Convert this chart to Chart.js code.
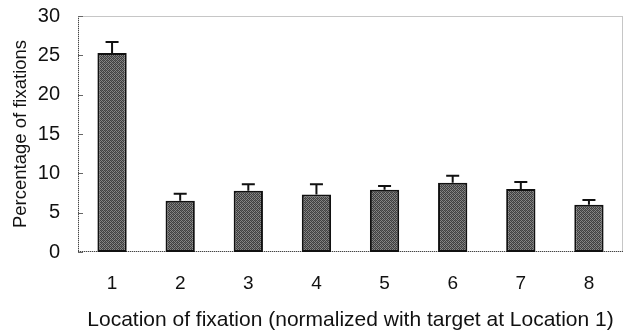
<!DOCTYPE html>
<html>
<head>
<meta charset="utf-8">
<script src="https://cdn.jsdelivr.net/npm/chart.js@4.4.1/dist/chart.umd.min.js"></script>
<style>
  html, body { margin: 0; padding: 0; background: #fff; }
  #wrap { width: 630px; height: 333px; }
</style>
</head>
<body>
<div id="wrap"><canvas id="grafico"></canvas></div>
<script>
// dados
const locations = ["1", "2", "3", "4", "5", "6", "7", "8"];
const percentages = [25.3, 6.5, 7.8, 7.3, 7.9, 8.8, 8.0, 6.0];
const errors = [1.4, 0.9, 0.8, 1.3, 0.5, 0.9, 0.9, 0.6];
const yTicks = [0, 5, 10, 15, 20, 25, 30];

// textura pontilhada para as barras
function stipple() {
  const c = document.createElement("canvas");
  c.width = 4; c.height = 4;
  const g = c.getContext("2d");
  g.fillStyle = "#858585";
  g.fillRect(0, 0, 4, 4);
  g.fillStyle = "#404040";
  g.fillRect(0, 0, 1, 1); g.fillRect(2, 0, 1, 1);
  g.fillRect(1, 1, 1, 1); g.fillRect(3, 1, 1, 1);
  g.fillRect(0, 2, 1, 1); g.fillRect(2, 2, 1, 1);
  g.fillRect(1, 3, 1, 1); g.fillRect(3, 3, 1, 1);
  g.fillStyle = "#606060";
  g.fillRect(3, 0, 1, 1); g.fillRect(1, 2, 1, 1);
  return g.createPattern(c, "repeat");
}

// moldura pontilhada e marcas do eixo y para dentro
const frame = {
  id: "frame",
  beforeDatasetsDraw(chart) {
    const { ctx, chartArea: a, scales } = chart;
    ctx.save();
    ctx.strokeStyle = "#8c8c8c";
    ctx.lineWidth = 1;
    ctx.setLineDash([1, 1]);
    ctx.strokeRect(a.left + 0.5, a.top + 0.5, a.right - a.left - 1, a.bottom - a.top - 1);
    ctx.strokeStyle = "#444";
    ctx.beginPath();
    ctx.moveTo(a.left + 0.5, a.top);
    ctx.lineTo(a.left + 0.5, a.bottom);
    ctx.moveTo(a.left, a.bottom - 0.5);
    ctx.lineTo(a.right, a.bottom - 0.5);
    ctx.stroke();
    ctx.setLineDash([]);
    ctx.strokeStyle = "#666";
    yTicks.forEach((v) => {
      const y = Math.round(scales.y.getPixelForValue(v)) + 0.5;
      ctx.beginPath();
      ctx.moveTo(a.left, y);
      ctx.lineTo(a.left + 5, y);
      ctx.stroke();
    });
    ctx.restore();
  }
};

// barras de erro (só para cima)
const errorBars = {
  id: "errorBars",
  afterDatasetsDraw(chart) {
    const { ctx, scales } = chart;
    const meta = chart.getDatasetMeta(0);
    ctx.save();
    ctx.strokeStyle = "#111";
    ctx.lineWidth = 2;
    meta.data.forEach((bar, i) => {
      const x = bar.x;
      const y0 = scales.y.getPixelForValue(percentages[i]);
      const y1 = scales.y.getPixelForValue(percentages[i] + errors[i]);
      ctx.beginPath();
      ctx.moveTo(x, y0);
      ctx.lineTo(x, y1);
      ctx.moveTo(x - 6.5, y1);
      ctx.lineTo(x + 6.5, y1);
      ctx.stroke();
    });
    ctx.restore();
  }
};

const fonte = "'Liberation Sans', Arial, sans-serif";

let data = {
  labels: locations,
  datasets: [
    {
      data: percentages,
      backgroundColor: stipple(),
      borderColor: "#111",
      borderWidth: 2,
      borderSkipped: false,
      categoryPercentage: 1,
      barPercentage: 0.43,
    },
  ],
};

let options = {
  responsive: true,
  maintainAspectRatio: false,
  animation: false,
  layout: { padding: { top: 16, right: 7, bottom: 0, left: 0 } },
  plugins: { legend: { display: false }, tooltip: { enabled: false } },
  scales: {
    x: {
      grid: { display: false },
      border: { display: false },
      ticks: { color: "#111", font: { family: fonte, size: 19 }, padding: 12 },
      title: {
        display: true,
        text: "Location of fixation (normalized with target at Location 1)",
        color: "#111",
        font: { family: fonte, size: 21 },
        padding: { top: 0, bottom: 0 },
      },
      afterFit: (s) => { s.height = 81; s.paddingLeft = 0; s.paddingRight = 0; },
    },
    y: {
      min: 0,
      max: 30,
      afterBuildTicks: (s) => { s.ticks = yTicks.map((v) => ({ value: v })); },
      grid: { display: false },
      border: { display: false },
      ticks: { color: "#111", font: { family: fonte, size: 20 }, padding: 10 },
      title: {
        display: true,
        text: "Percentage of fixations",
        color: "#111",
        font: { family: fonte, size: 18.5 },
        padding: { top: 10, bottom: 0 },
      },
      afterFit: (s) => { s.width = 78; s.paddingTop = 0; s.paddingBottom = 0; },
    },
  },
};

let ctx = document.getElementById("grafico").getContext("2d");
let grafico = new Chart(ctx, {
  type: "bar",
  data: data,
  options: options,
  plugins: [frame, errorBars],
});
</script>
</body>
</html>
